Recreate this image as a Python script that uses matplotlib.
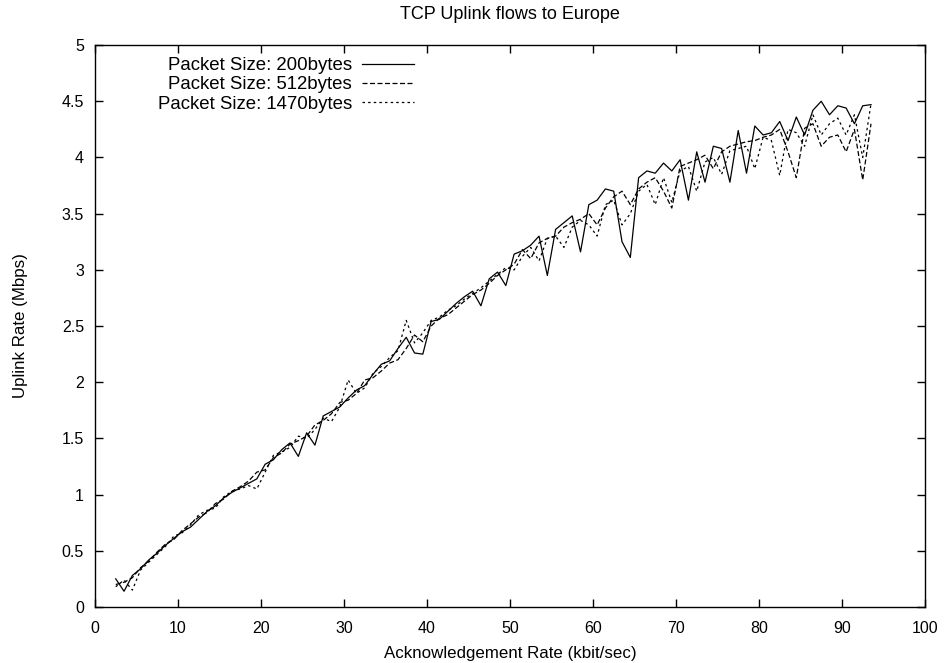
import numpy as np
import matplotlib.pyplot as plt

plt.rcParams['font.family'] = ['Liberation Sans', 'DejaVu Sans']

# acknowledgement rate (kbit/sec)
ack_rate = np.arange(2.5, 94.0, 1.0)

# uplink rate (Mbps) per packet size
rate_200 = [0.25, 0.14, 0.28, 0.34, 0.42, 0.48, 0.55, 0.61, 0.67, 0.71,
            0.78, 0.85, 0.90, 0.97, 1.02, 1.06, 1.10, 1.14, 1.27, 1.31,
            1.40, 1.46, 1.34, 1.55, 1.44, 1.70, 1.74, 1.78, 1.86, 1.93,
            1.97, 2.07, 2.16, 2.19, 2.30, 2.40, 2.26, 2.25, 2.54, 2.56,
            2.63, 2.70, 2.76, 2.81, 2.68, 2.92, 2.98, 2.86, 3.14, 3.17,
            3.22, 3.30, 2.95, 3.36, 3.42, 3.48, 3.16, 3.58, 3.62, 3.72,
            3.70, 3.25, 3.11, 3.82, 3.88, 3.86, 3.95, 3.88, 3.98, 3.62,
            4.05, 3.78, 4.10, 4.08, 3.78, 4.24, 3.86, 4.28, 4.20, 4.22,
            4.32, 4.15, 4.36, 4.20, 4.42, 4.50, 4.38, 4.46, 4.44, 4.30,
            4.46, 4.47]
rate_512 = [0.20, 0.22, 0.26, 0.35, 0.41, 0.49, 0.56, 0.60, 0.68, 0.74,
            0.80, 0.84, 0.92, 0.96, 1.03, 1.07, 1.12, 1.20, 1.22, 1.33,
            1.37, 1.45, 1.48, 1.52, 1.62, 1.66, 1.72, 1.82, 1.84, 1.90,
            2.02, 2.04, 2.10, 2.17, 2.20, 2.30, 2.42, 2.36, 2.50, 2.57,
            2.60, 2.66, 2.72, 2.78, 2.82, 2.88, 2.95, 3.00, 3.05, 3.18,
            3.10, 3.24, 3.28, 3.30, 3.38, 3.42, 3.45, 3.50, 3.40, 3.55,
            3.65, 3.70, 3.58, 3.72, 3.78, 3.82, 3.70, 3.55, 3.92, 3.95,
            3.98, 4.02, 3.90, 4.05, 4.10, 4.12, 4.14, 4.15, 4.18, 4.20,
            4.25, 4.05, 3.82, 4.26, 4.30, 4.10, 4.18, 4.20, 4.05, 4.25,
            3.80, 4.30]
rate_1470 = [0.18, 0.24, 0.15, 0.33, 0.40, 0.47, 0.54, 0.63, 0.66, 0.73,
             0.82, 0.86, 0.88, 0.98, 1.03, 1.05, 1.08, 1.05, 1.20, 1.35,
             1.38, 1.42, 1.52, 1.50, 1.58, 1.68, 1.65, 1.78, 2.02, 1.90,
             1.95, 2.08, 2.14, 2.22, 2.28, 2.55, 2.35, 2.44, 2.55, 2.58,
             2.64, 2.68, 2.74, 2.79, 2.84, 2.90, 2.96, 3.02, 3.00, 3.12,
             3.20, 3.08, 3.28, 3.30, 3.20, 3.38, 3.44, 3.40, 3.30, 3.58,
             3.62, 3.40, 3.50, 3.70, 3.76, 3.58, 3.82, 3.60, 3.88, 3.92,
             3.70, 3.96, 4.00, 3.85, 4.06, 4.08, 4.10, 3.90, 4.18, 4.15,
             3.84, 4.25, 4.22, 4.10, 4.38, 4.20, 4.30, 4.35, 4.20, 4.38,
             4.00, 4.48]

labels = ['Packet Size: 200bytes', 'Packet Size: 512bytes', 'Packet Size: 1470bytes']

fig = plt.figure(figsize=(9.48, 6.63), dpi=100)
ax = fig.add_axes([0.1002, 0.0845, 0.8755, 0.8475])

ax.plot(ack_rate, rate_200, color='black', lw=0.9, ls='-', label=labels[0])
ax.plot(ack_rate, rate_512, color='black', lw=0.9, ls=(0, (4, 2)), label=labels[1])
ax.plot(ack_rate, rate_1470, color='black', lw=0.9, ls=(0, (2, 2.5)), label=labels[2])

ax.set_xlim(0, 100)
ax.set_ylim(0, 5)
ax.set_xticks(np.arange(0, 101, 10))
ax.set_yticks(np.arange(0, 5.01, 0.5))
ax.set_yticklabels(['0', '0.5', '1', '1.5', '2', '2.5', '3', '3.5', '4', '4.5', '5'])
ax.tick_params(direction='in', top=True, right=True, length=6, width=1, labelsize=11.5)
ax.tick_params(axis='x', pad=10)
ax.tick_params(axis='y', pad=8)
for s in ax.spines.values():
    s.set_linewidth(1)

ax.set_title('TCP Uplink flows to Europe', fontsize=13, pad=19)
ax.set_xlabel('Acknowledgement Rate (kbit/sec)', fontsize=12.2, labelpad=7)
ax.set_ylabel('Uplink Rate (Mbps)', fontsize=12.2, labelpad=24)

ax.legend(loc='upper right', bbox_to_anchor=(0.395, 0.995), frameon=False, markerfirst=False,
          fontsize=13.4, handlelength=2.75, labelspacing=0.12, handletextpad=0.55, borderpad=0)

fig.savefig('out.png', dpi=100)
